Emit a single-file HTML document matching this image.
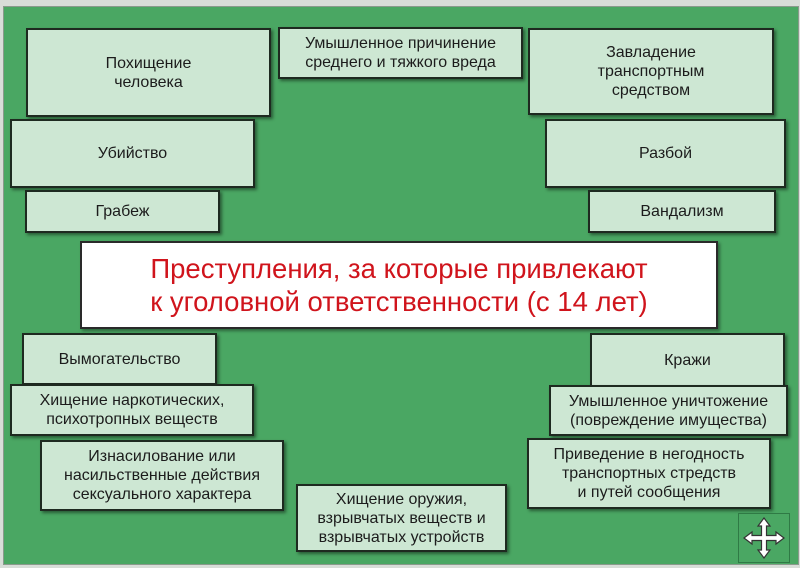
<!DOCTYPE html>
<html><head><meta charset="utf-8"><style>
body{margin:0;width:800px;height:568px;background:#d8ddd8;position:relative;overflow:hidden;font-family:"Liberation Sans","DejaVu Sans",sans-serif}
.bg{position:absolute;left:3px;top:6px;width:794px;height:557px;background:#4aa763;border:1px solid #8a9a8c}
.b{position:absolute;box-sizing:border-box;background:#cde7d3;border:2px solid #1e2a20;box-shadow:2px 2px 3px rgba(0,0,0,.45);display:flex;align-items:center;justify-content:center;text-align:center;color:#1c1c1c;font-size:16px;line-height:19px}
.c{position:absolute;left:80px;top:241px;width:638px;height:88px;box-sizing:border-box;background:#fff;border:2px solid #2a2a2a;box-shadow:2px 2px 3px rgba(0,0,0,.4);color:#d0141c;font-size:27.5px;line-height:33px;text-align:center;display:flex;align-items:center;justify-content:center}
</style></head><body>
<div class="bg"></div>
<div class="b" style="left:26px;top:28px;width:245px;height:89px">Похищение<br>человека</div>
<div class="b" style="left:278px;top:27px;width:245px;height:52px">Умышленное причинение<br>среднего и тяжкого вреда</div>
<div class="b" style="left:528px;top:28px;width:246px;height:87px">Завладение<br>транспортным<br>средством</div>
<div class="b" style="left:10px;top:119px;width:245px;height:69px">Убийство</div>
<div class="b" style="left:545px;top:119px;width:241px;height:69px">Разбой</div>
<div class="b" style="left:25px;top:190px;width:195px;height:43px">Грабеж</div>
<div class="b" style="left:588px;top:190px;width:188px;height:43px">Вандализм</div>
<div class="c">Преступления, за которые привлекают<br>к уголовной ответственности (с 14 лет)</div>
<div class="b" style="left:22px;top:333px;width:195px;height:52px">Вымогательство</div>
<div class="b" style="left:590px;top:333px;width:195px;height:54px">Кражи</div>
<div class="b" style="left:10px;top:384px;width:244px;height:52px">Хищение наркотических,<br>психотропных веществ</div>
<div class="b" style="left:549px;top:385px;width:239px;height:51px">Умышленное уничтожение<br>(повреждение имущества)</div>
<div class="b" style="left:40px;top:440px;width:244px;height:71px">Изнасилование или<br>насильственные действия<br>сексуального характера</div>
<div class="b" style="left:527px;top:438px;width:244px;height:71px">Приведение в негодность<br>транспортных стредств<br>и путей сообщения</div>
<div class="b" style="left:296px;top:484px;width:211px;height:68px">Хищение оружия,<br>взрывчатых веществ и<br>взрывчатых устройств</div>
<div style="position:absolute;left:738px;top:513px;width:52px;height:50px;box-sizing:border-box;background:#4aa763;border:1px solid #2f7a45">
<svg width="50" height="48" viewBox="0 0 50 48"><path d="M25 4 L31 12 L27.5 12 L27.5 21.5 L37 21.5 L37 18 L45 24 L37 30 L37 26.5 L27.5 26.5 L27.5 36 L31 36 L25 44 L19 36 L22.5 36 L22.5 26.5 L13 26.5 L13 30 L5 24 L13 18 L13 21.5 L22.5 21.5 L22.5 12 L19 12 Z" fill="#fff" stroke="#333" stroke-width="1.2"/></svg></div>
</body></html>
